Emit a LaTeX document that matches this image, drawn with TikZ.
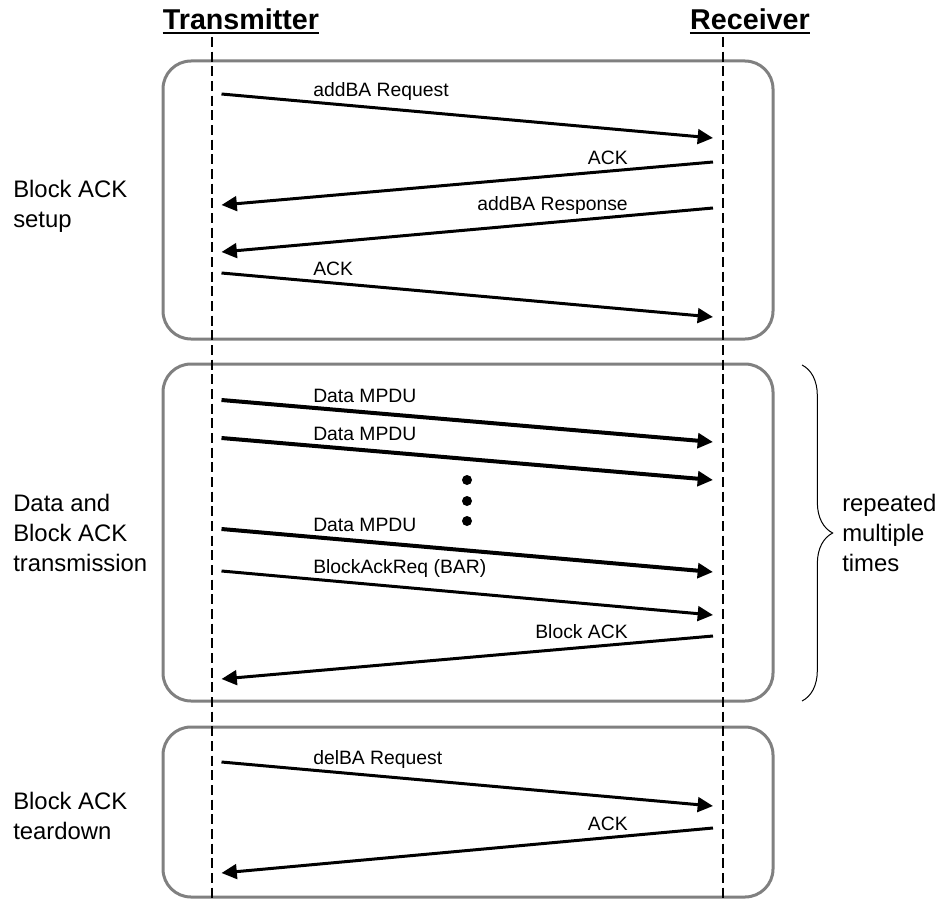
\documentclass[tikz,border=0pt]{standalone}
\usepackage{fontspec}
\setmainfont{Liberation Sans}
\usetikzlibrary{arrows.meta,decorations.pathreplacing}
\definecolor{phaseG}{RGB}{128,128,128}
\newcommand{\TXL}{212}
\newcommand{\RXL}{723}
\newcommand{\TXA}{221.5}
\newcommand{\RXA}{713}
\newcommand{\LBX}{313}
\newcommand{\RBX}{628}

\begin{document}
\begin{tikzpicture}[x=0.75pt, y=-0.75pt,
    life/.style={draw=black, line width=1.9pt, dash pattern=on 7.5pt off 3.5pt},
    phase/.style={draw=phaseG, line width=2.25pt, rounded corners=21pt},
    msg/.style={draw=black, line width=2.25pt, -{Triangle[length=11.5pt, width=11pt]}},
    data/.style={msg, line width=3pt},
    lbl/.style={font=\fontsize{14.5}{17}\selectfont, inner sep=0pt},
    side/.style={font=\fontsize{17.9}{22.5}\selectfont, align=left, inner sep=0pt, anchor=north west},
    head/.style={font=\fontsize{21.5}{26}\selectfont\bfseries, inner sep=0pt, anchor=base},
    dot/.style={circle, fill=black, minimum size=7.5pt, inner sep=0pt},
    brc/.style={draw=black, line width=0.75pt, decorate, decoration={brace, amplitude=23pt}},
  ]
  \useasboundingbox (0,0) rectangle (945,899);

  %% ================= phase boxes =================
  \draw[phase] (163,61) rectangle (773,339);
  \draw[phase] (163,364) rectangle (773,701);
  \draw[phase] (163,727) rectangle (773,897);

  %% ================= stations and lifelines =================
  \node[head] (tx) at (241,30) {Transmitter};
  \node[head] (rx) at (750,30) {Receiver};
  \draw[line width=1.5pt] ([yshift=-2.25pt]tx.base west) -- ([yshift=-2.25pt]tx.base east);
  \draw[line width=1.5pt] ([yshift=-2.25pt]rx.base west) -- ([yshift=-2.25pt]rx.base east);
  \coordinate (txtop) at (\TXL,37);  \coordinate (txbot) at (\TXL,899);
  \coordinate (rxtop) at (\RXL,37);  \coordinate (rxbot) at (\RXL,899);
  \draw[life] (txtop) -- (txbot);
  \draw[life] (rxtop) -- (rxbot);

  %% ================= (1) block ACK setup =================
  \node[side] (setup) at (13,180) {Block ACK\\setup};
  \coordinate (a1) at (\TXA,94);  \coordinate (b1) at (\RXA,138);
  \coordinate (b2) at (\RXA,162); \coordinate (a2) at (\TXA,205);
  \coordinate (b3) at (\RXA,208); \coordinate (a3) at (\TXA,252);
  \coordinate (a4) at (\TXA,273); \coordinate (b4) at (\RXA,317);
  \draw[msg] (a1) -- (b1);
  \draw[msg] (b2) -- (a2);
  \draw[msg] (b3) -- (a3);
  \draw[msg] (a4) -- (b4);
  \node[lbl, anchor=base west] (req) at (\LBX,96)  {addBA Request};
  \node[lbl, anchor=base east] (ack1) at (\RBX,164) {ACK};
  \node[lbl, anchor=base east] (rsp) at (\RBX,210) {addBA Response};
  \node[lbl, anchor=base west] (ack2) at (\LBX,275) {ACK};

  %% ================= (2) data and block ACK =================
  \node[side] (xfer) at (13,494) {Data and\\Block ACK\\transmission};
  \coordinate (a5) at (\TXA,400); \coordinate (b5) at (\RXA,442);
  \coordinate (a6) at (\TXA,438); \coordinate (b6) at (\RXA,480);
  \coordinate (a7) at (\TXA,529); \coordinate (b7) at (\RXA,572);
  \coordinate (a8) at (\TXA,571); \coordinate (b8) at (\RXA,615);
  \coordinate (b9) at (\RXA,636); \coordinate (a9) at (\TXA,679);
  \draw[data] (a5) -- (b5);
  \draw[data] (a6) -- (b6);
  \draw[data] (a7) -- (b7);
  \draw[msg] (a8) -- (b8);
  \draw[msg] (b9) -- (a9);
  \node[lbl, anchor=base west] (mpdu1) at (\LBX,402) {Data MPDU};
  \node[lbl, anchor=base west] (mpdu2) at (\LBX,440) {Data MPDU};
  \node[lbl, anchor=base west] (mpdu3) at (\LBX,531) {Data MPDU};
  \node[lbl, anchor=base west] (bar) at (\LBX,573) {BlockAckReq (BAR)};
  \node[lbl, anchor=base east] (back) at (\RBX,638) {Block ACK};
  \foreach \k/\yy in {1/480,2/501,3/521}
    \node[dot] (dot\k) at (467,\yy) {};

  % repetition brace
  \coordinate (brtop) at (802,365); \coordinate (brbot) at (802,701);
  \draw[brc] (brtop) -- (brbot);
  \node[side] (rep) at (842,494) {repeated\\multiple\\times};

  %% ================= (3) block ACK teardown =================
  \node[side] (tear) at (13,792) {Block ACK\\teardown};
  \coordinate (a10) at (\TXA,762); \coordinate (b10) at (\RXA,806);
  \coordinate (b11) at (\RXA,828); \coordinate (a11) at (\TXA,873);
  \draw[msg] (a10) -- (b10);
  \draw[msg] (b11) -- (a11);
  \node[lbl, anchor=base west] (del) at (\LBX,764) {delBA Request};
  \node[lbl, anchor=base east] (ack3) at (\RBX,830) {ACK};

\end{tikzpicture}
\end{document}
